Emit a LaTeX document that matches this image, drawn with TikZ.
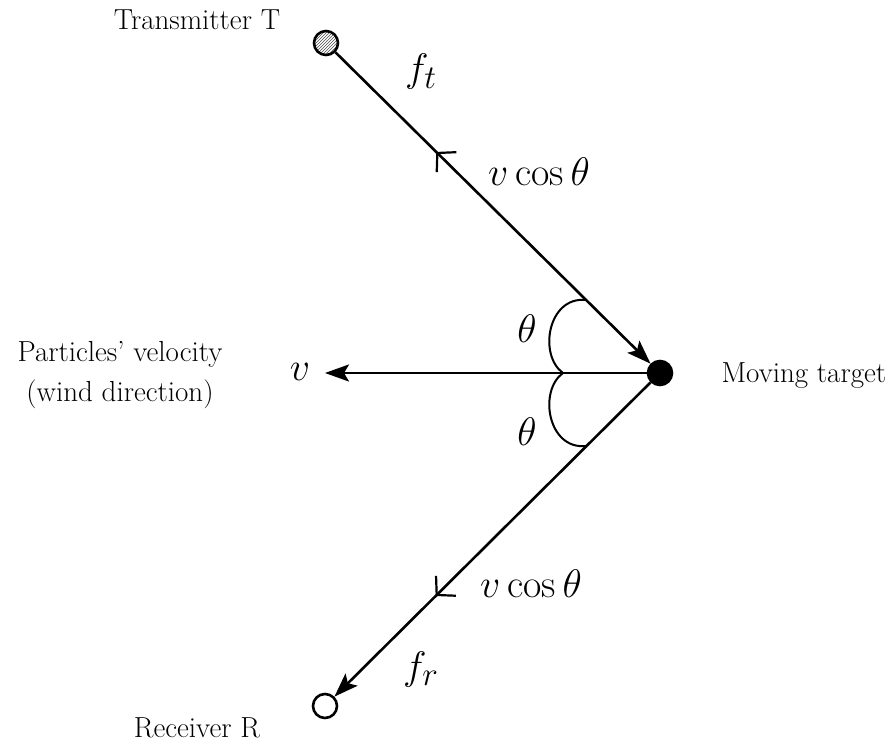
\documentclass[tikz,border=0pt]{standalone}
\usepackage{fontspec}
\usepackage{graphicx}
\usepackage{amsmath}
\usetikzlibrary{arrows.meta, patterns, decorations.markings}

\newcommand{\bigmath}[1]{\scalebox{1.6}{\fontsize{24.88}{28}\selectfont$#1$}}

\begin{document}
\begin{tikzpicture}[x=1pt, y=-1pt,
        txt/.style={font=\fontsize{29}{40}\selectfont},
        station/.style={draw, circle, line width=2.6pt, minimum size=24pt, inner sep=0pt, fill=white},
        beam/.style={line width=2.6pt},
        tip/.style={-{Stealth[length=24pt, width=17pt, inset=5pt]}},
        midback/.style={postaction={decorate}, decoration={markings,
            mark=at position #1 with {\arrowreversed[line width=2.2pt]{Straight Barb[length=13pt, width=28pt]}}}},
        midfwd/.style={postaction={decorate}, decoration={markings,
            mark=at position #1 with {\arrow[line width=2.2pt]{Straight Barb[length=13pt, width=28pt]}}}},
        angarc/.style={line width=2pt}
    ]
        \useasboundingbox (0,0) rectangle (895,746);

        % --- stations and target ---
        \node[station, pattern=north east lines, pattern color=black!70] (T) at (326,43) {};
        \node[station, fill=black] (target) at (660,373) {};
        \node[station] (R) at (325,706) {};
        \coordinate (vtip) at (325,373);

        % --- labels ---
        \node[txt] (lblT) at (197,20) {Transmitter T};
        \node[txt] (lblR) at (197,728) {Receiver R};
        \node[txt, anchor=west] (lbltarget) at (718,376) {Moving target};
        \node[txt, align=center] (lblwind) at (120,375) {Particles' velocity\\(wind direction)};

        % --- beams ---
        \draw[beam, tip, midback=0.32] (T) -- (target);
        \draw[beam, tip, midfwd=0.68] (target) -- (R);
        \draw[beam, tip] (target) -- (vtip);

        % --- angles ---
        \draw[angarc] (586,300) .. controls (548,296) and (538,355) .. (563,373);
        \draw[angarc] (563,373) .. controls (538,391) and (548,450) .. (586,446);

        % --- math labels ---
        \node (lblv) at (300,372) {\bigmath{v}};
        \node (lblft) at (421,72) {\bigmath{f_t}};
        \node (lblfr) at (421,670) {\bigmath{f_r}};
        \node (vcosup) at (539,172) {\bigmath{v\cos\theta}};
        \node (vcosdn) at (531,584) {\bigmath{v\cos\theta}};
        \node (thup) at (527,329) {\bigmath{\theta}};
        \node (thdn) at (527,432) {\bigmath{\theta}};

    \end{tikzpicture}
\end{document}
